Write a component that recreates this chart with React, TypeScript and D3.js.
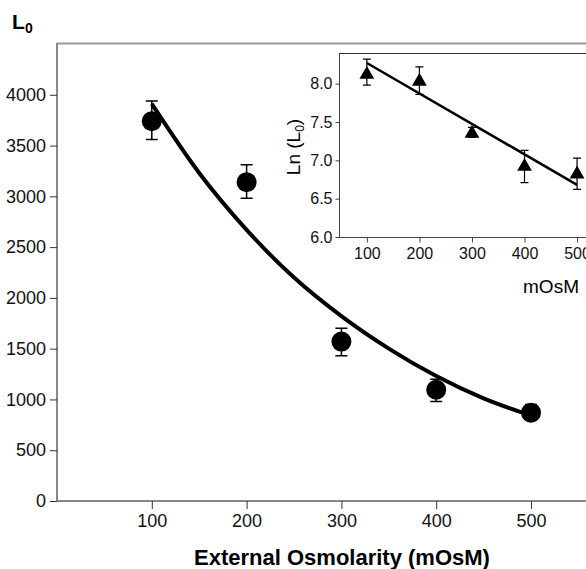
import { useEffect, useRef } from 'react';
import * as d3 from 'd3';

// main panel: L0 vs external osmolarity
const osm = [100, 200, 300, 400, 500];
const l0Mean = [3740, 3140, 1570, 1095, 870];
const l0Low = [3560, 2980, 1430, 980, 800];
const l0High = [3940, 3310, 1700, 1200, 950];

// exponential fit
const fitOsm = [100, 150, 200, 250, 300, 350, 400, 450, 500];
const fitL0 = [3910, 3230, 2670, 2200, 1820, 1500, 1230, 1010, 840];

const mainYTicks = [0, 500, 1000, 1500, 2000, 2500, 3000, 3500, 4000];
const mainXTicks = [100, 200, 300, 400, 500];

// inset: ln(L0)
const lnMean = [8.12, 8.03, 7.35, 6.92, 6.82];
const lnLow = [7.98, 7.86, 7.3, 6.71, 6.62];
const lnHigh = [8.32, 8.22, 7.43, 7.13, 7.03];
const lnFitOsm = [100, 500];
const lnFit = [8.27, 6.68];

const insetYTicks = [6.0, 6.5, 7.0, 7.5, 8.0];
const insetXTicks = [100, 200, 300, 400, 500];

const FONT = 'Liberation Sans, Arial, sans-serif';

export default function App() {
  const ref = useRef<SVGSVGElement>(null);

  useEffect(() => {
    const svg = d3.select(ref.current);
    svg.selectAll('*').remove();

    // ---- main panel ----
    const x = d3.scaleLinear().domain([0, 558]).range([57, 586]);
    const y = d3.scaleLinear().domain([0, 4510]).range([501, 43]);

    svg
      .append('line')
      .attr('x1', 57)
      .attr('x2', 586)
      .attr('y1', 43.5)
      .attr('y2', 43.5)
      .attr('stroke', '#999')
      .attr('stroke-width', 2);

    const yAxis = svg
      .append('g')
      .attr('transform', 'translate(57,0)')
      .call(d3.axisLeft(y).tickValues(mainYTicks).tickSize(7).tickPadding(4).tickFormat(d3.format('d')));
    yAxis.select('.domain').attr('stroke', '#888').attr('stroke-width', 2).attr('d', 'M0,501V43');
    yAxis.selectAll('line').attr('stroke', '#333');
    yAxis.selectAll('text').attr('font-family', FONT).attr('font-size', 18).attr('fill', '#111');

    const xAxis = svg
      .append('g')
      .attr('transform', 'translate(0,501)')
      .call(d3.axisBottom(x).tickValues(mainXTicks).tickSize(8).tickPadding(5).tickFormat(d3.format('d')));
    xAxis.select('.domain').attr('stroke', '#888').attr('stroke-width', 2).attr('d', 'M57,0H586');
    xAxis.selectAll('line').attr('stroke', '#333');
    xAxis.selectAll('text').attr('font-family', FONT).attr('font-size', 18).attr('fill', '#111');

    const fitLine = d3
      .line<number>()
      .x((d, i) => x(fitOsm[i]))
      .y((d) => y(d))
      .curve(d3.curveMonotoneX);

    svg
      .append('path')
      .attr('d', fitLine(fitL0))
      .attr('fill', 'none')
      .attr('stroke', '#000')
      .attr('stroke-width', 4);

    const main = svg.append('g');
    osm.forEach((o, i) => {
      const cx = x(o);
      main
        .append('path')
        .attr('d', `M${cx},${y(l0Low[i])}V${y(l0High[i])}M${cx - 6},${y(l0Low[i])}H${cx + 6}M${cx - 6},${y(l0High[i])}H${cx + 6}`)
        .attr('stroke', '#000')
        .attr('stroke-width', 1.5)
        .attr('fill', 'none');
      main.append('circle').attr('cx', cx).attr('cy', y(l0Mean[i])).attr('r', 10).attr('fill', '#000');
    });

    svg
      .append('text')
      .attr('x', 12)
      .attr('y', 29)
      .attr('font-family', FONT)
      .attr('font-weight', 'bold')
      .attr('font-size', 21)
      .text('L');
    svg
      .append('text')
      .attr('x', 25)
      .attr('y', 33)
      .attr('font-family', FONT)
      .attr('font-weight', 'bold')
      .attr('font-size', 14)
      .text('0');

    svg
      .append('text')
      .attr('x', 342)
      .attr('y', 565)
      .attr('text-anchor', 'middle')
      .attr('font-family', FONT)
      .attr('font-weight', 'bold')
      .attr('font-size', 22)
      .text('External Osmolarity (mOsM)');

    // ---- inset ----
    const ix = d3.scaleLinear().domain([47, 517]).range([339, 586]);
    const iy = d3.scaleLinear().domain([6.0, 8.4]).range([237, 53]);

    svg
      .append('rect')
      .attr('x', 339)
      .attr('y', 53)
      .attr('width', 247)
      .attr('height', 184)
      .attr('fill', '#fff');

    svg
      .append('line')
      .attr('x1', 339)
      .attr('x2', 586)
      .attr('y1', 53.5)
      .attr('y2', 53.5)
      .attr('stroke', '#333')
      .attr('stroke-width', 1);

    const iyAxis = svg
      .append('g')
      .attr('transform', 'translate(339.5,0)')
      .call(d3.axisLeft(iy).tickValues(insetYTicks).tickSize(4).tickPadding(3).tickFormat(d3.format('.1f')));
    iyAxis.select('.domain').attr('stroke', '#444').attr('d', 'M0,237V53');
    iyAxis.selectAll('line').attr('stroke', '#444');
    iyAxis.selectAll('text').attr('font-family', FONT).attr('font-size', 16).attr('fill', '#111');

    const ixAxis = svg
      .append('g')
      .attr('transform', 'translate(0,237.5)')
      .call(d3.axisBottom(ix).tickValues(insetXTicks).tickSize(5).tickPadding(5).tickFormat(d3.format('d')));
    ixAxis.select('.domain').attr('stroke', '#444').attr('d', 'M339,0H586');
    ixAxis.selectAll('line').attr('stroke', '#444');
    ixAxis.selectAll('text').attr('font-family', FONT).attr('font-size', 16).attr('fill', '#111');

    const lnLine = d3
      .line<number>()
      .x((d, i) => ix(lnFitOsm[i]))
      .y((d) => iy(d));

    svg
      .append('path')
      .attr('d', lnLine(lnFit))
      .attr('fill', 'none')
      .attr('stroke', '#000')
      .attr('stroke-width', 2.5);

    const tri = d3.symbol().type(d3.symbolTriangle).size(95);
    const inset = svg.append('g');
    osm.forEach((o, i) => {
      const cx = ix(o);
      inset
        .append('path')
        .attr('d', `M${cx},${iy(lnLow[i])}V${iy(lnHigh[i])}M${cx - 4},${iy(lnLow[i])}H${cx + 4}M${cx - 4},${iy(lnHigh[i])}H${cx + 4}`)
        .attr('stroke', '#000')
        .attr('stroke-width', 1.2)
        .attr('fill', 'none');
      inset
        .append('path')
        .attr('d', tri)
        .attr('transform', `translate(${cx},${iy(lnMean[i])})`)
        .attr('fill', '#000');
    });

    const lnLabel = svg
      .append('text')
      .attr('transform', 'translate(300,147) rotate(-90)')
      .attr('text-anchor', 'middle')
      .attr('font-family', FONT)
      .attr('font-size', 19);
    lnLabel.append('tspan').text('Ln (L');
    lnLabel.append('tspan').attr('font-size', 12).attr('dy', 4).text('0');
    lnLabel.append('tspan').attr('dy', -4).text(')');

    svg
      .append('text')
      .attr('x', 551)
      .attr('y', 293)
      .attr('text-anchor', 'middle')
      .attr('font-family', FONT)
      .attr('font-size', 19)
      .text('mOsM');
  }, []);

  return (
    <svg
      ref={ref}
      width={586}
      height={569}
      style={{ position: 'absolute', left: 0, top: 0, background: '#fff' }}
    />
  );
}
